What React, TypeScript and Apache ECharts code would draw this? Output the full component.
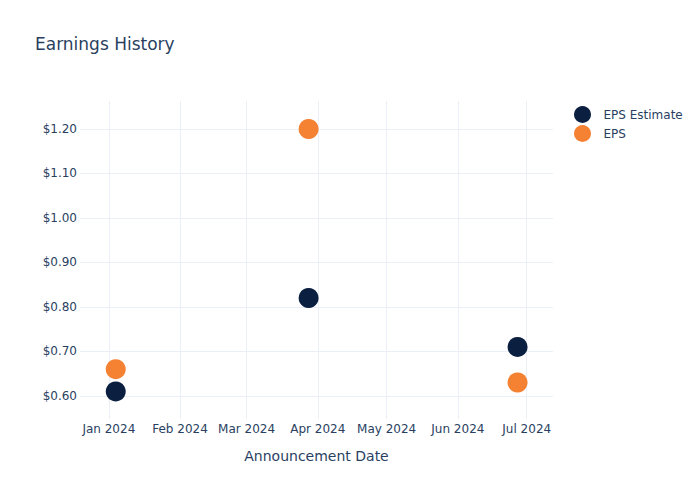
import React, { useEffect, useRef } from "react";
import * as echarts from "echarts";

const dates = ["2024-01-04", "2024-03-28", "2024-06-27"];
const epsEstimate = [0.61, 0.82, 0.71];
const eps = [0.66, 1.2, 0.63];
const yTicks = [0.6, 0.7, 0.8, 0.9, 1.0, 1.1, 1.2];
const xTicks = ["2024-01-01", "2024-02-01", "2024-03-01", "2024-04-01", "2024-05-01", "2024-06-01", "2024-07-01"];
const monthNames = ["Jan", "Feb", "Mar", "Apr", "May", "Jun", "Jul", "Aug", "Sep", "Oct", "Nov", "Dec"];

const FONT = "'DejaVu Sans', sans-serif";
const TXT = "#2a3f5f";
const GRID = "#ebf0f8";

export default function App() {
  const ref = useRef<HTMLDivElement>(null);
  useEffect(() => {
    if (!ref.current) return;
    const chart = echarts.init(ref.current, undefined, { renderer: "svg" });
    const ts = (d: string) => new Date(d + "T00:00:00Z").getTime();
    const xTickTs = xTicks.map(ts);
    const halfDay = 10.5 * 3600 * 1000;
    chart.setOption({
      animation: false,
      textStyle: { fontFamily: FONT },
      title: {
        text: "Earnings History",
        left: 35,
        top: 35,
        padding: 0,
        textStyle: { fontFamily: FONT, fontSize: 17, fontWeight: "normal", color: TXT },
      },
      legend: {
        orient: "vertical",
        left: 569,
        top: 101,
        itemGap: 2,
        itemWidth: 32,
        itemHeight: 17,
        icon: "circle",
        textStyle: { fontFamily: FONT, fontSize: 12, color: TXT },
        data: ["EPS Estimate", "EPS"],
      },
      grid: { left: 80, right: 147, top: 101, bottom: 81, containLabel: false },
      xAxis: {
        type: "value",
        min: ts("2023-12-19") + halfDay,
        max: ts("2024-07-12") + halfDay,
        name: "Announcement Date",
        nameLocation: "middle",
        nameGap: 30,
        nameTextStyle: { fontFamily: FONT, fontSize: 14, color: TXT },
        axisLine: { show: false },
        axisTick: { show: false, customValues: xTickTs },
        splitLine: { show: true, lineStyle: { color: GRID, width: 1 } },
        axisLabel: {
          customValues: xTickTs,
          margin: 4,
          fontFamily: FONT,
          fontSize: 12,
          color: TXT,
          hideOverlap: false,
          formatter: (v: number) => {
            const d = new Date(v);
            return monthNames[d.getUTCMonth()] + " " + d.getUTCFullYear();
          },
        },
      },
      yAxis: {
        type: "value",
        min: 0.548,
        max: 1.263,
        axisLine: { show: false },
        axisTick: { show: false, customValues: yTicks },
        splitLine: { show: true, lineStyle: { color: GRID, width: 1 } },
        axisLabel: {
          customValues: yTicks,
          margin: 3,
          fontFamily: FONT,
          fontSize: 12,
          color: TXT,
          formatter: (v: number) => "$" + v.toFixed(2),
        },
      },
      series: [
        {
          name: "EPS Estimate",
          type: "scatter",
          symbolSize: 20,
          itemStyle: { color: "#0b1f40", opacity: 1 },
          data: dates.map((d, i) => [ts(d), epsEstimate[i]]),
        },
        {
          name: "EPS",
          type: "scatter",
          symbolSize: 20,
          itemStyle: { color: "#f58233", opacity: 1 },
          data: dates.map((d, i) => [ts(d), eps[i]]),
        },
      ],
    });
    return () => chart.dispose();
  }, []);
  return <div ref={ref} style={{ position: "absolute", left: 0, top: 0, width: 700, height: 500 }} />;
}
